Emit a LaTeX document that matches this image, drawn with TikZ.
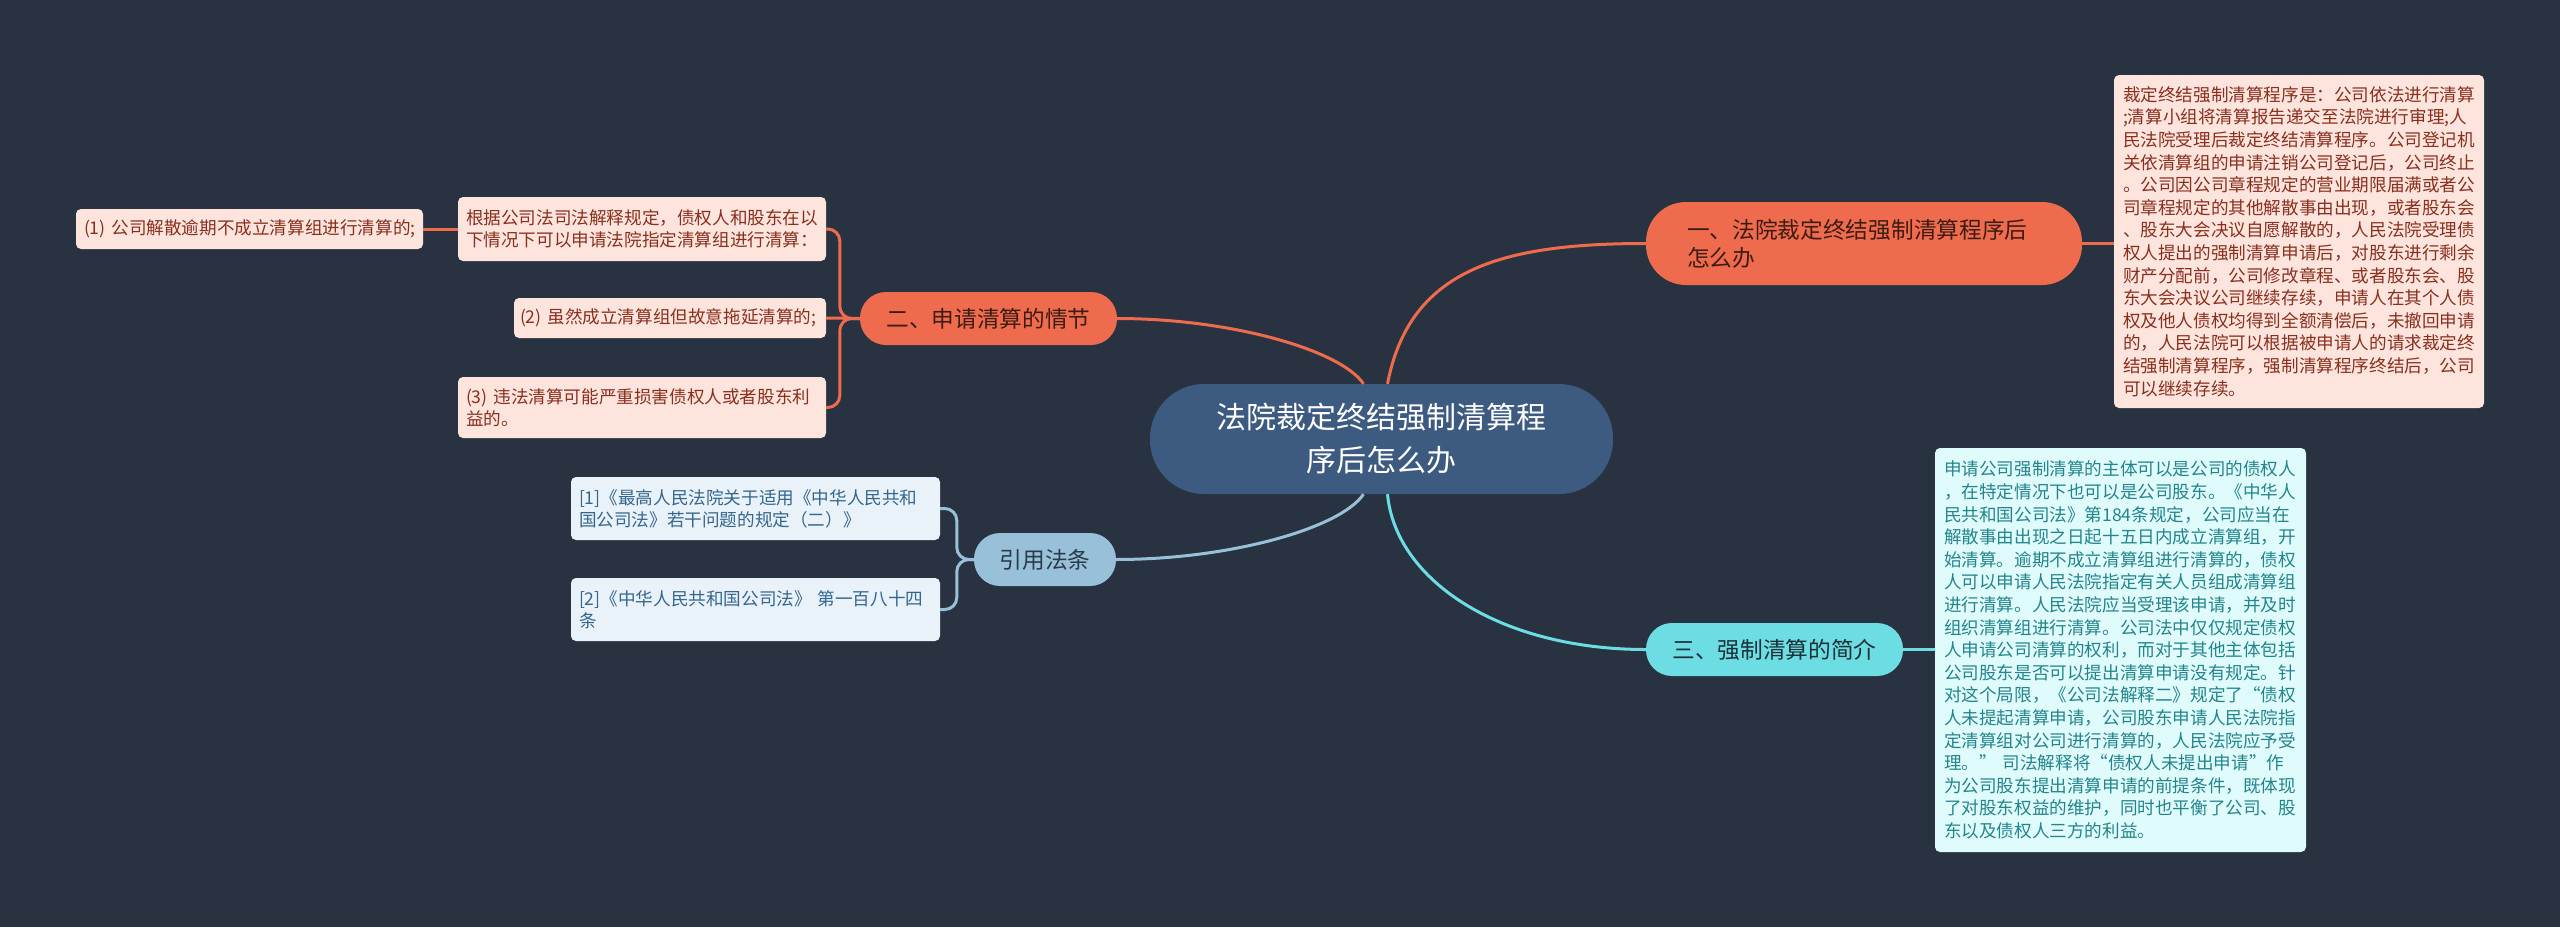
\documentclass[tikz,border=0pt]{standalone}
\usepackage{fontspec}
\newfontfamily\cjk{Noto Sans CJK SC}
\definecolor{bgdark}{HTML}{293241}
\definecolor{rootblue}{HTML}{3D5A80}
\definecolor{coral}{HTML}{EE6C4D}
\definecolor{coraltext}{HTML}{3E1C14}
\definecolor{coralpale}{HTML}{FDE5DE}
\definecolor{coraldeep}{HTML}{8A2F1E}
\definecolor{aqua}{HTML}{6BDDE3}
\definecolor{aquatext}{HTML}{1C3038}
\definecolor{aquapale}{HTML}{E0FBFC}
\definecolor{aquadeep}{HTML}{23858C}
\definecolor{skyblue}{HTML}{98C1D9}
\definecolor{skytext}{HTML}{2A3A4A}
\definecolor{skypale}{HTML}{E9F2F8}
\definecolor{skydeep}{HTML}{35668F}
\begin{document}
\begin{tikzpicture}[x=1pt, y=-1pt,
    pill/.style={rounded corners=26pt, inner sep=0pt, minimum height=53pt,
      font=\cjk\fontsize{22.7}{28}\selectfont},
    detail/.style={rounded corners=5pt, inner xsep=9pt, inner ysep=0pt,
      align=left, font=\cjk\fontsize{17.6}{22.6}\selectfont},
    leaf/.style={detail, inner xsep=8pt, font=\cjk\fontsize{17.6}{22}\selectfont},
    link/.style={line width=3pt}]
    \fill[bgdark] (0,0) rectangle (2560,927);
    \useasboundingbox (0,0) rectangle (2560,927);

    % centre
    \node[fill=rootblue, text=white, rounded corners=54pt, inner sep=0pt,
      minimum width=463pt, minimum height=110pt, align=center,
      font=\cjk\fontsize{30}{43}\selectfont] (root) at (1381.5,439)
      {法院裁定终结强制清算程\\序后怎么办};

    % branches
    \node[pill, fill=coral, text=coraltext, rounded corners=40pt, minimum width=436pt,
      minimum height=83pt, text width=354pt, align=left] (b1) at (1864,243.5)
      {一、法院裁定终结强制清算程序后\\怎么办};
    \node[pill, fill=coral, text=coraltext, minimum width=257pt] (b2) at (988.5,318.5)
      {二、申请清算的情节};
    \node[pill, fill=aqua, text=aquatext, minimum width=257pt] (b3) at (1774.5,649.5)
      {三、强制清算的简介};
    \node[pill, fill=skyblue, text=skytext, minimum width=142pt] (yy) at (1045,559.5)
      {引用法条};

    % details
    \node[detail, fill=coralpale, text=coraldeep, text width=352pt, minimum height=333pt]
      (d1) at (2299,241.5)
      {裁定终结强制清算程序是：公司依法进行清算\\
       ;清算小组将清算报告递交至法院进行审理;人\\
       民法院受理后裁定终结清算程序。公司登记机\\
       关依清算组的申请注销公司登记后，公司终止\\
       。公司因公司章程规定的营业期限届满或者公\\
       司章程规定的其他解散事由出现，或者股东会\\
       、股东大会决议自愿解散的，人民法院受理债\\
       权人提出的强制清算申请后，对股东进行剩余\\
       财产分配前，公司修改章程、或者股东会、股\\
       东大会决议公司继续存续，申请人在其个人债\\
       权及他人债权均得到全额清偿后，未撤回申请\\
       的，人民法院可以根据被申请人的请求裁定终\\
       结强制清算程序，强制清算程序终结后，公司\\
       可以继续存续。};
    \node[detail, fill=aquapale, text=aquadeep, text width=353pt, minimum height=404pt]
      (d3) at (2120.5,650)
      {申请公司强制清算的主体可以是公司的债权人\\
       ，在特定情况下也可以是公司股东。《中华人\\
       民共和国公司法》第184条规定，公司应当在\\
       解散事由出现之日起十五日内成立清算组，开\\
       始清算。逾期不成立清算组进行清算的，债权\\
       人可以申请人民法院指定有关人员组成清算组\\
       进行清算。人民法院应当受理该申请，并及时\\
       组织清算组进行清算。公司法中仅仅规定债权\\
       人申请公司清算的权利，而对于其他主体包括\\
       公司股东是否可以提出清算申请没有规定。针\\
       对这个局限，《公司法解释二》规定了“债权\\
       人未提起清算申请，公司股东申请人民法院指\\
       定清算组对公司进行清算的，人民法院应予受\\
       理。” 司法解释将“债权人未提出申请”作\\
       为公司股东提出清算申请的前提条件，既体现\\
       了对股东权益的维护，同时也平衡了公司、股\\
       东以及债权人三方的利益。};

    % left side
    \node[leaf, fill=coralpale, text=coraldeep, text width=352pt, minimum height=64pt]
      (gj) at (642,229)
      {根据公司法司法解释规定，债权人和股东在以\\下情况下可以申请法院指定清算组进行清算：};
    \node[leaf, fill=coralpale, text=coraldeep, text width=331pt, minimum height=40pt]
      (c1) at (249.5,229) {(1)~公司解散逾期不成立清算组进行清算的;};
    \node[leaf, fill=coralpale, text=coraldeep, inner xsep=6pt, text width=300pt,
      minimum height=40pt] (c2) at (670,318) {(2)~虽然成立清算组但故意拖延清算的;};
    \node[leaf, fill=coralpale, text=coraldeep, text width=352pt, minimum height=61pt]
      (c3) at (642,407.5) {(3) 违法清算可能严重损害债权人或者股东利\\益的。};
    \node[leaf, fill=skypale, text=skydeep, text width=353pt, minimum height=63pt]
      (r1) at (755.5,508.5) {[1]《最高人民法院关于适用《中华人民共和\\国公司法》若干问题的规定（二）》};
    \node[leaf, fill=skypale, text=skydeep, text width=353pt, minimum height=63pt]
      (r2) at (755.5,609.5) {[2]《中华人民共和国公司法》 第一百八十四\\条};

    % links
    \draw[link, coral] ([xshift=6pt]root.north) .. controls +(22,-114) and +(-146,0) .. (b1.west);
    \draw[link, coral] ([xshift=-18pt]root.north) .. controls +(-23,-34) and +(113,0) .. (b2.east);
    \draw[link, skyblue] ([xshift=-18pt]root.south) .. controls +(-23,34) and +(114,0) .. (yy.east);
    \draw[link, aqua] ([xshift=6pt]root.south) .. controls +(8,86) and +(-146,0) .. (b3.west);
    \draw[link, coral] (b1.east) -- (b1.east -| d1.west);
    \draw[link, aqua] (b3.east) -- (b3.east -| d3.west);
    \draw[link, coral] (b2.west) -- (c2.east);
    \draw[link, coral, rounded corners=12pt] (b2.west) -- ++(-20,0) |- (gj.east);
    \draw[link, coral, rounded corners=12pt] (b2.west) -- ++(-20,0) |- (c3.east);
    \draw[link, coral] (gj.west) -- (c1.east);
    \draw[link, skyblue, rounded corners=12pt] (yy.west) -- ++(-17,0) |- (r1.east);
    \draw[link, skyblue, rounded corners=12pt] (yy.west) -- ++(-17,0) |- (r2.east);
\end{tikzpicture}
\end{document}
